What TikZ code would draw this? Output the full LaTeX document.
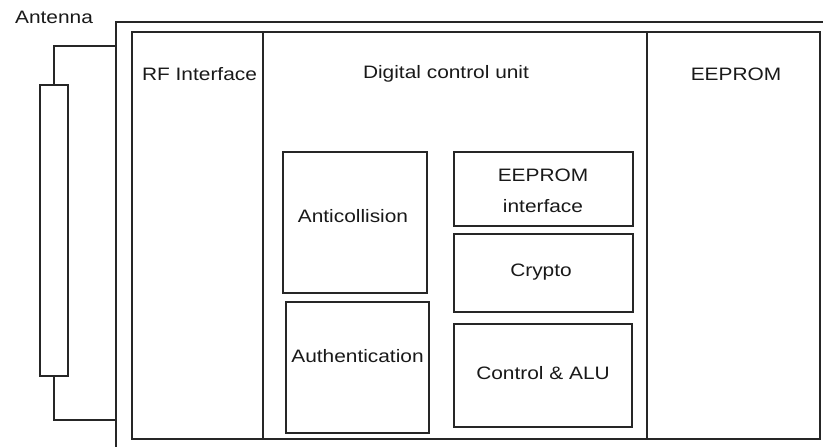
\documentclass[tikz,border=0pt]{standalone}
\usepackage{fontspec}
\setmainfont{Liberation Sans}[FakeStretch=1.16]
\begin{document}
\begin{tikzpicture}[x=1pt,y=-1pt,
  line/.style={draw=black!85,line width=1.3pt},
  blk/.style={line,rectangle,inner sep=0pt},
  txt/.style={inner sep=0pt,text=black!90,font=\fontsize{18}{31}\selectfont,align=center}]
\useasboundingbox (0,0) rectangle (823,447);

% chip package outline (runs past the right and bottom edges)
\coordinate (pkgTL) at (116,22);
\coordinate (pkgR) at (823,22);
\coordinate (pkgB) at (116,447);
\draw[line] (pkgB) -- (pkgTL) -- (pkgR);

% antenna coil and its two feed wires
\node[blk,minimum width=28pt,minimum height=291pt] (ant) at (54,230.5) {};
\node[txt,anchor=center] (antlbl) at (54,17) {Antenna};
\coordinate (feedA) at (116,46);
\coordinate (feedB) at (116,420);
\draw[line] (ant.north) |- (feedA);
\draw[line] (ant.south) |- (feedB);

% die with its three functional columns
\node[blk,minimum width=131pt,minimum height=407pt] (rf) at (197.5,235.5) {};
\node[blk,minimum width=384pt,minimum height=407pt] (dcu) at (455,235.5) {};
\node[blk,minimum width=173pt,minimum height=407pt] (ee) at (733.5,235.5) {};
\node[txt] (rflbl) at (199.5,74) {RF Interface};
\node[txt] (dculbl) at (446,74) {Digital control unit};
\node[txt] (eelbl) at (736,74) {EEPROM};

% blocks of the digital control unit
\node[blk,minimum width=144pt,minimum height=141pt] (anti) at (355,222.5) {};
\node[txt] (antitxt) at (353,216) {Anticollision};
\node[blk,minimum width=143pt,minimum height=131pt] (auth) at (357.5,367.5) {};
\node[txt] (authtxt) at (357.5,356) {Authentication};
\node[blk,minimum width=179pt,minimum height=74pt] (eeif) at (543.5,189) {};
\node[txt] (eeiftxt) at (543,191) {EEPROM\\interface};
\node[blk,minimum width=179pt,minimum height=78pt] (crypto) at (543.5,273) {};
\node[txt] (cryptotxt) at (541,272) {Crypto};
\node[blk,minimum width=178pt,minimum height=103pt] (alu) at (543,375.5) {};
\node[txt] (alutxt) at (543,373) {Control \& ALU};
\end{tikzpicture}
\end{document}
